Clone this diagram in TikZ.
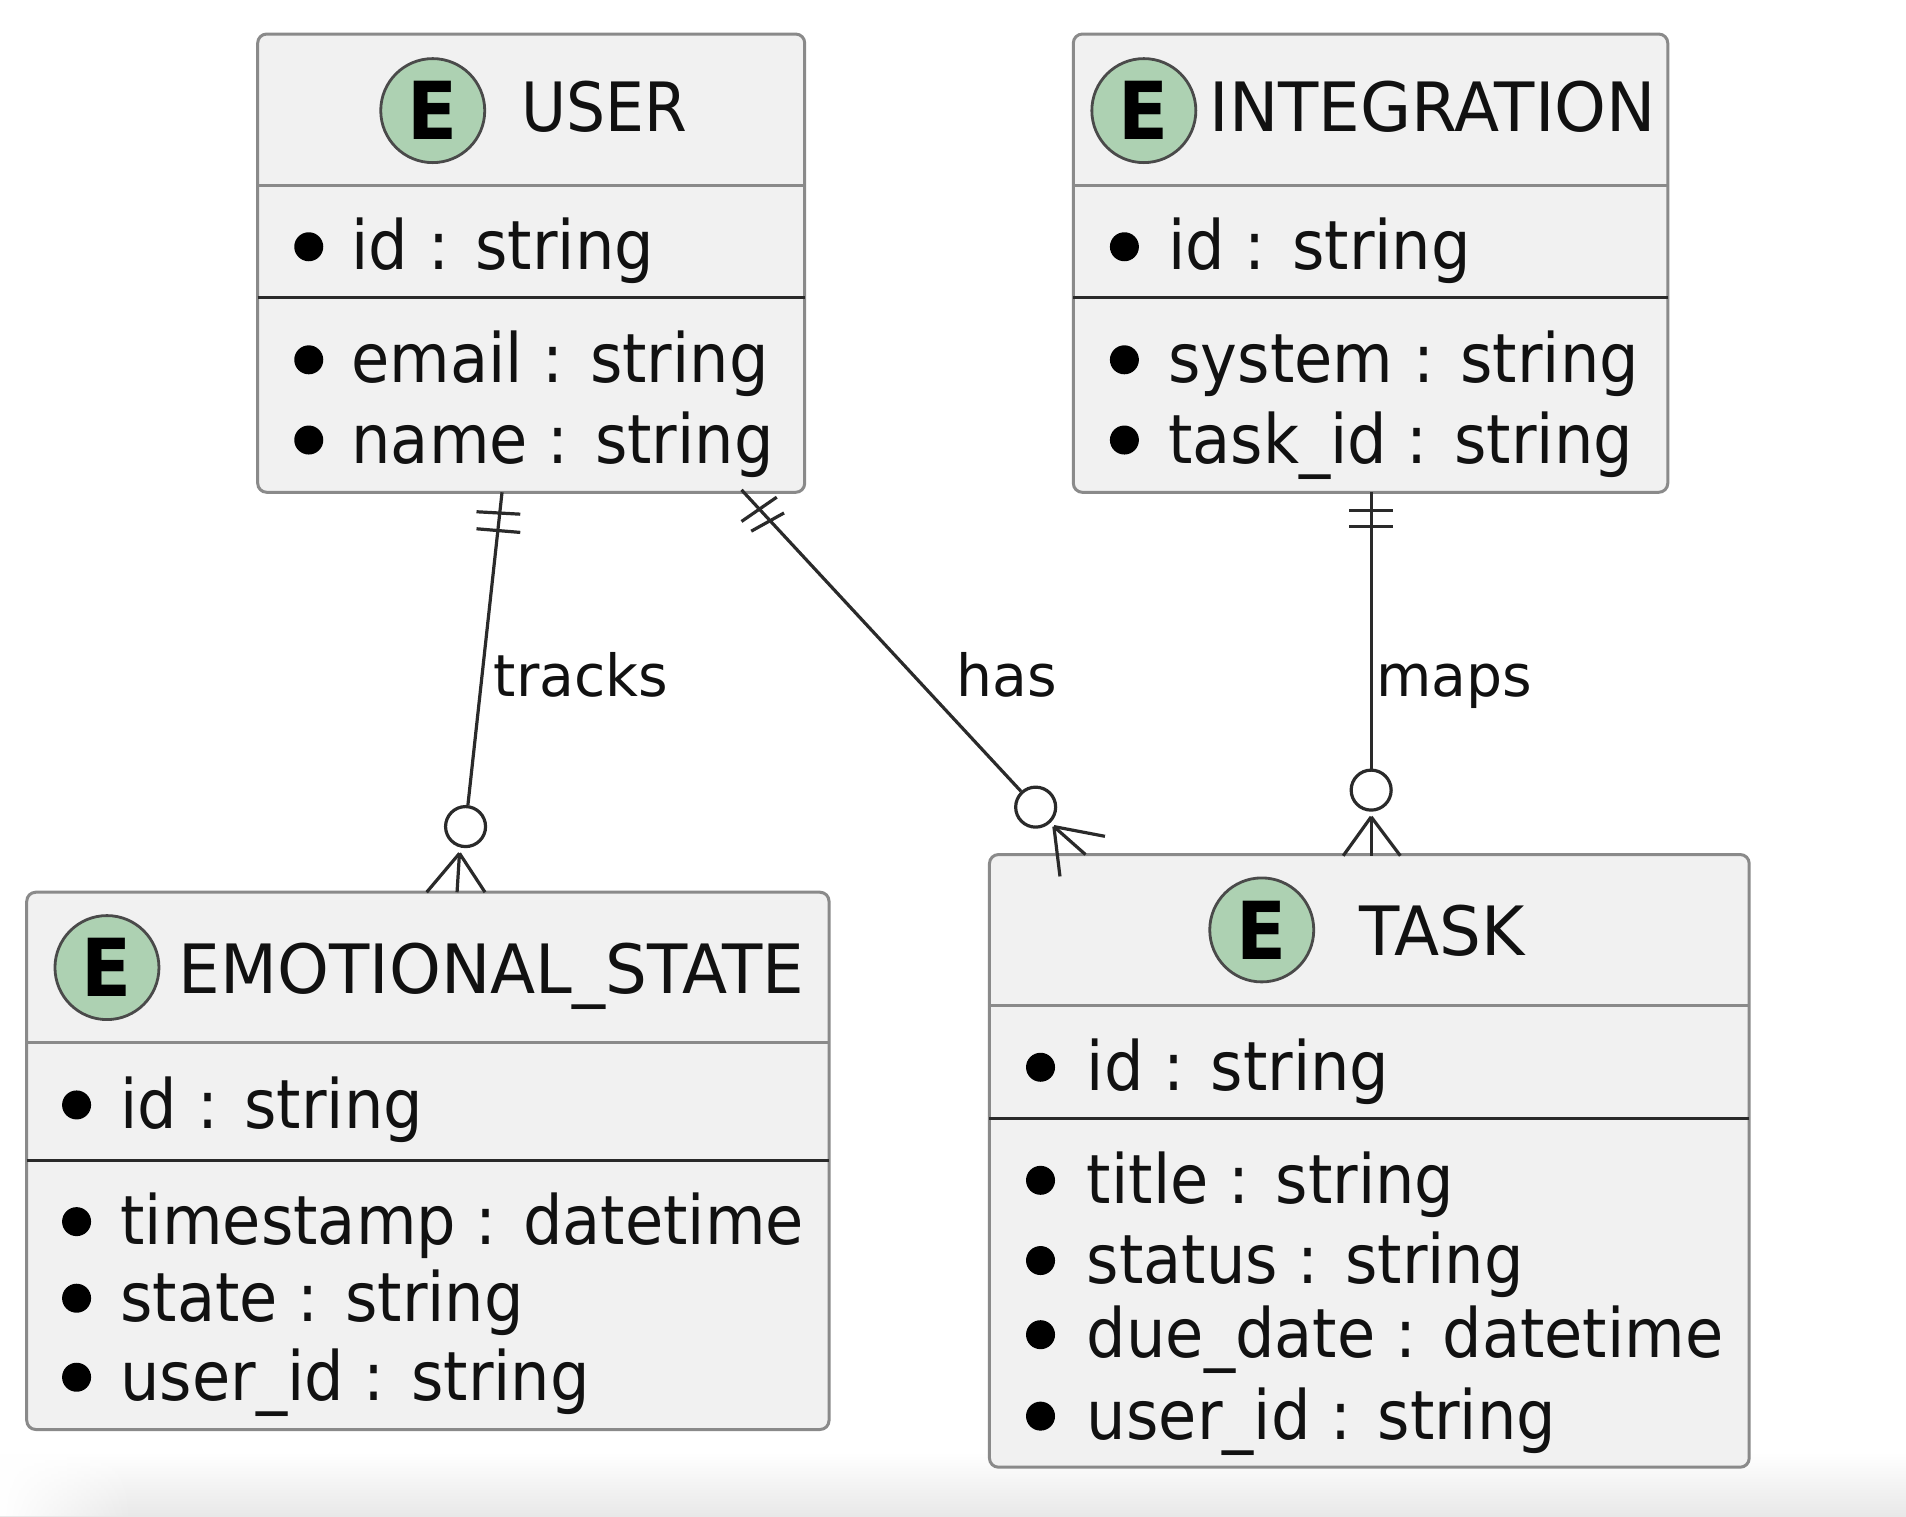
\documentclass[tikz,border=0pt]{standalone}
\usepackage{fontspec}
\setmainfont[FakeStretch=0.915]{DejaVu Sans}
\newfontfamily\titlefont[FakeStretch=0.97]{DejaVu Sans}
\newfontfamily\userfont[FakeStretch=0.905]{DejaVu Sans}
\newfontfamily\labelfont[FakeStretch=0.98]{DejaVu Sans}
\usetikzlibrary{fadings}
\definecolor{boxfill}{HTML}{F1F1F1}
\definecolor{boxline}{HTML}{8A8A8A}
\definecolor{sepdark}{HTML}{2A2A2A}
\definecolor{spot}{HTML}{ADD1B2}
\definecolor{ink}{HTML}{111111}
\tikzset{
  ebox/.style={draw=boxline,fill=boxfill,line width=3pt,rounded corners=9pt,anchor=north west,inner sep=0pt,outer sep=0pt},
  sepgray/.style={draw=boxline,line width=3pt},
  sepblack/.style={draw=sepdark,line width=3pt},
  spotc/.style={circle,draw=sepdark!85,fill=spot,line width=2.8pt,minimum size=104pt,inner sep=0pt},
  spotl/.style={font=\fontsize{80}{80}\selectfont\bfseries,text=black,inner sep=0pt},
  titlet/.style={font=\fontsize{68}{68}\selectfont\titlefont,text=ink,anchor=base west,inner sep=0pt},
  attrt/.style={font=\fontsize{68}{68}\selectfont,text=ink,anchor=base west,inner sep=0pt},
  labt/.style={font=\fontsize{58}{58}\selectfont\labelfont,text=ink,anchor=base west,inner sep=0pt},
  dot/.style={circle,fill=black,minimum size=29pt,inner sep=0pt},
  conn/.style={draw=sepdark,line width=3.2pt},
  ringn/.style={circle,draw=sepdark,fill=white,line width=3.2pt,minimum size=40pt,inner sep=0pt},
}
\newcommand{\entrow}[5]{%
  \node[dot] (#1b) at (#2,#4-19) {};
  \node[attrt] (#1t) at (#3,#4) {#5};
}
\begin{document}
\begin{tikzpicture}[x=1.21556pt,y=-1.21556pt]
\useasboundingbox (0,0) rectangle (1568,1247.2);
% soft shadow along the bottom edge
\shade[top color=white,bottom color=black!9,draw=none] (0,1195) rectangle (1568,1247.2);
\fill[white,path fading=east] (0,1195) rectangle (110,1247.2);

% USER
\node[ebox,minimum width=450*1.21556pt,minimum height=377*1.21556pt] (user) at (212,28) {};
\draw[sepgray] (user.west |- 0,153) -- (user.east |- 0,153);
\draw[sepblack] (user.west |- 0,245) -- (user.east |- 0,245);
\node[spotc] (userc) at (356,91) {};
\node[spotl] (usere) at (userc) {E};
\node[titlet,font=\fontsize{68}{68}\selectfont\userfont] (usert) at (429,108) {USER};
\entrow{ua}{254}{289}{222}{id : string}
\entrow{ub}{254}{289}{315}{email : string}
\entrow{uc}{254}{289}{381}{name : string}

% INTEGRATION
\node[ebox,minimum width=489*1.21556pt,minimum height=377*1.21556pt] (integ) at (883,28) {};
\draw[sepgray] (integ.west |- 0,153) -- (integ.east |- 0,153);
\draw[sepblack] (integ.west |- 0,245) -- (integ.east |- 0,245);
\node[spotc] (integc) at (941,91) {};
\node[spotl] (intege) at (integc) {E};
\node[titlet] (integt) at (995,108) {INTEGRATION};
\entrow{ia}{925}{961}{222}{id : string}
\entrow{ib}{925}{961}{315}{system : string}
\entrow{ic}{925}{961}{381}{task\_id : string}

% EMOTIONAL_STATE
\node[ebox,minimum width=660*1.21556pt,minimum height=442*1.21556pt] (emo) at (22,734) {};
\draw[sepgray] (emo.west |- 0,858) -- (emo.east |- 0,858);
\draw[sepblack] (emo.west |- 0,955) -- (emo.east |- 0,955);
\node[spotc] (emoc) at (88,796) {};
\node[spotl] (emoe) at (emoc) {E};
\node[titlet] (emot) at (147,817) {EMOTIONAL\_STATE};
\entrow{ea}{63}{99}{928}{id : string}
\entrow{eb}{63}{99}{1024}{timestamp : datetime}
\entrow{ec}{63}{99}{1087}{state : string}
\entrow{ed}{63}{99}{1152}{user\_id : string}

% TASK
\node[ebox,minimum width=625*1.21556pt,minimum height=504*1.21556pt] (task) at (814,703) {};
\draw[sepgray] (task.west |- 0,827) -- (task.east |- 0,827);
\draw[sepblack] (task.west |- 0,920) -- (task.east |- 0,920);
\node[spotc] (taskc) at (1038,765) {};
\node[spotl] (taske) at (taskc) {E};
\node[titlet] (taskt) at (1118,786) {TASK};
\entrow{ta}{856}{894}{897}{id : string}
\entrow{tb}{856}{894}{990}{title : string}
\entrow{tc}{856}{894}{1056}{status : string}
\entrow{td}{856}{894}{1117}{due\_date : datetime}
\entrow{te}{856}{894}{1184}{user\_id : string}

% connector ends
\coordinate (ut) at (413,405);
\coordinate (uh) at (610,403);
\coordinate (im) at (1128,405);
\node[ringn] (rt) at (383,680) {};
\node[ringn] (rh) at (852,664) {};
\node[ringn] (rm) at (1128,650) {};
\coordinate (ft) at (378,702);
\coordinate (fh) at (867,680);
\coordinate (fm) at (1128,672);

% tracks
\draw[conn] (ut) -- (rt);
\draw[conn] (392,421) -- (428,423);
\draw[conn] (392,435) -- (428,438);
\draw[conn] (ft) -- (351,734);
\draw[conn] (ft) -- (376,734);
\draw[conn] (ft) -- (399,734);
\node[labt] (lt) at (406,573) {tracks};
% has
\draw[conn] (uh) -- (rh);
\draw[conn] (610,429) -- (639,409);
\draw[conn] (618,437) -- (645,422);
\draw[conn] (fh) -- (909,688);
\draw[conn] (fh) -- (893,703);
\draw[conn] (fh) -- (872,721);
\node[labt] (lh) at (787,573) {has};
% maps
\draw[conn] (im) -- (rm);
\draw[conn] (1110,420) -- (1146,420);
\draw[conn] (1110,433) -- (1146,433);
\draw[conn] (fm) -- (1105,704);
\draw[conn] (fm) -- (1128,704);
\draw[conn] (fm) -- (1152,704);
\node[labt] (lm) at (1132,573) {maps};
\end{tikzpicture}
\end{document}
